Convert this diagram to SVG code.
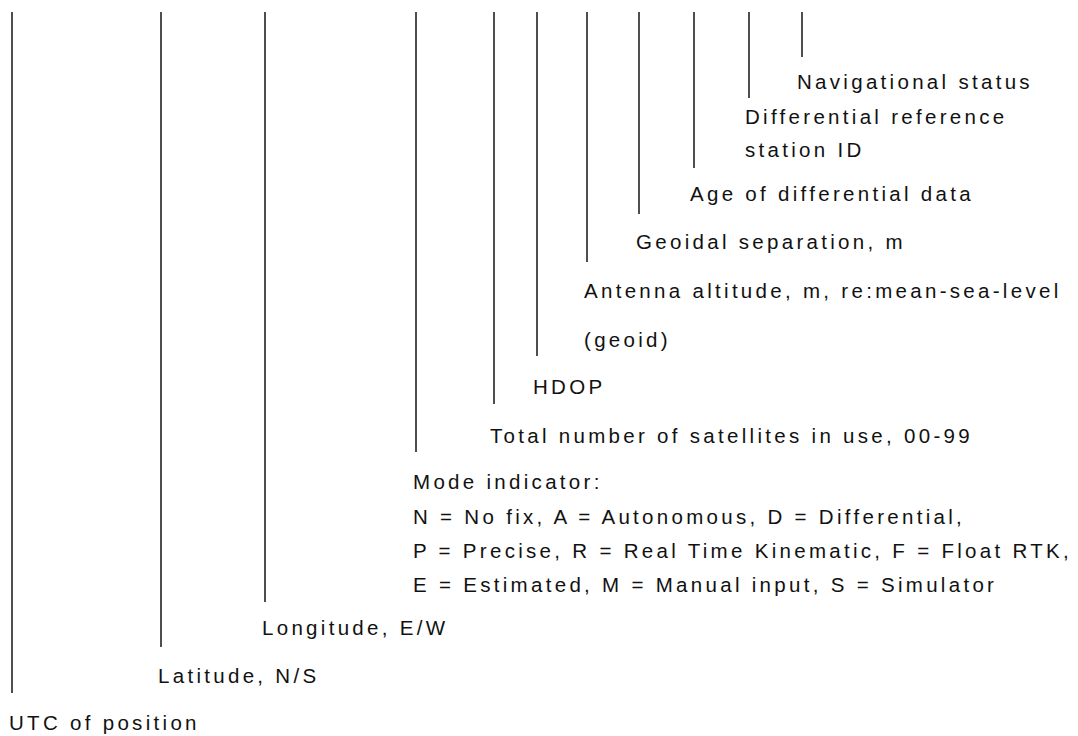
<svg xmlns="http://www.w3.org/2000/svg" width="1078" height="736" viewBox="0 0 1078 736">
<style>
text{font-family:"Liberation Sans",Arial,sans-serif;font-size:20.5px;letter-spacing:3.3px;fill:#111}
.c line{stroke:#222;stroke-width:1.6}
</style>
<rect width="1078" height="736" fill="#fff"/>
<g class="c" id="connectors">
<line x1="12" y1="12" x2="12" y2="693"/>
<line x1="161" y1="12" x2="161" y2="647"/>
<line x1="265" y1="12" x2="265" y2="602"/>
<line x1="416" y1="12" x2="416" y2="452"/>
<line x1="494" y1="12" x2="494" y2="404"/>
<line x1="537" y1="12" x2="537" y2="356"/>
<line x1="587" y1="12" x2="587" y2="262"/>
<line x1="639" y1="12" x2="639" y2="214"/>
<line x1="694" y1="12" x2="694" y2="168"/>
<line x1="749" y1="12" x2="749" y2="98"/>
<line x1="802" y1="12" x2="802" y2="57"/>
</g>
<g id="nav"><text x="797" y="89">Navigational status</text></g>
<g id="diffref"><text x="745" y="124">Differential reference</text><text x="745" y="157">station ID</text></g>
<g id="age"><text x="690" y="201">Age of differential data</text></g>
<g id="geoidal"><text x="636" y="249">Geoidal separation, m</text></g>
<g id="antenna"><text x="584" y="298">Antenna altitude, m, re:mean-sea-level</text><text x="584" y="347">(geoid)</text></g>
<g id="hdop"><text x="533" y="394">HDOP</text></g>
<g id="sats"><text x="490" y="443">Total number of satellites in use, 00-99</text></g>
<g id="mode"><text x="413" y="489">Mode indicator:</text><text x="413" y="524">N = No fix, A = Autonomous, D = Differential,</text><text x="413" y="558">P = Precise, R = Real Time Kinematic, F = Float RTK,</text><text x="413" y="592">E = Estimated, M = Manual input, S = Simulator</text></g>
<g id="lon"><text x="262" y="635">Longitude, E/W</text></g>
<g id="lat"><text x="158" y="683">Latitude, N/S</text></g>
<g id="utc"><text x="9" y="730">UTC of position</text></g>
</svg>
